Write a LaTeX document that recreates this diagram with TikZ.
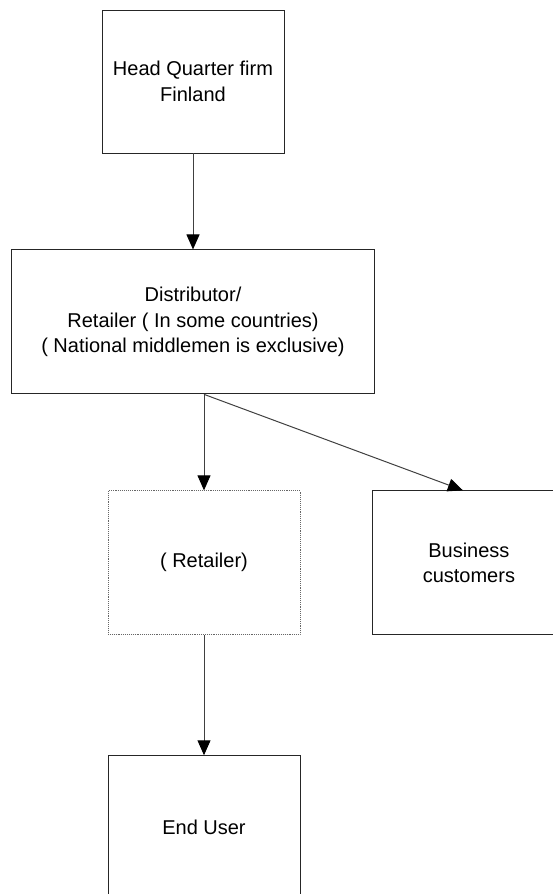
\documentclass[tikz,border=0pt]{standalone}
\usepackage{fontspec}
\setmainfont{Liberation Sans}
\usetikzlibrary{positioning, arrows.meta}
\tikzstyle{block} = [rectangle, draw=black!85, line width=0.9pt, minimum width=192pt, minimum height=144pt, inner sep=0pt, align=center, font=\fontsize{20}{25.5}\selectfont]
\tikzstyle{dotbox} = [draw=black!60, densely dotted, line width=0.9pt]
\tikzstyle{line} = [draw, black!75, line width=1pt, -{Triangle[length=15pt, width=13pt, color=black]}]

\begin{document}
\begin{tikzpicture}[x=1pt, y=1pt, node distance=96pt]
  \useasboundingbox (0,0) rectangle (553,-894);
  \node [block, minimum width=182pt, minimum height=143pt] (hq) at (193,-81.5) {Head Quarter firm\\Finland};
  \node [block, minimum width=363pt, below=96pt of hq]     (dist) {Distributor/\\Retailer ( In some countries)\\( National middlemen is exclusive)};
  \node [block, dotbox, below=96pt of dist, xshift=11pt]    (ret)  {( Retailer)};
  \node [block, right=72pt of ret]                          (bus)  {Business\\customers};
  \node [block, below=120pt of ret]                         (end)  {End User};
  \path [line] (hq)  -- (dist);
  \path [line] (ret.north |- dist.south) -- (ret);
  \path [line] (ret.north |- dist.south) -- ([xshift=-6pt]bus.north);
  \path [line] (ret) -- (end);
\end{tikzpicture}
\end{document}
